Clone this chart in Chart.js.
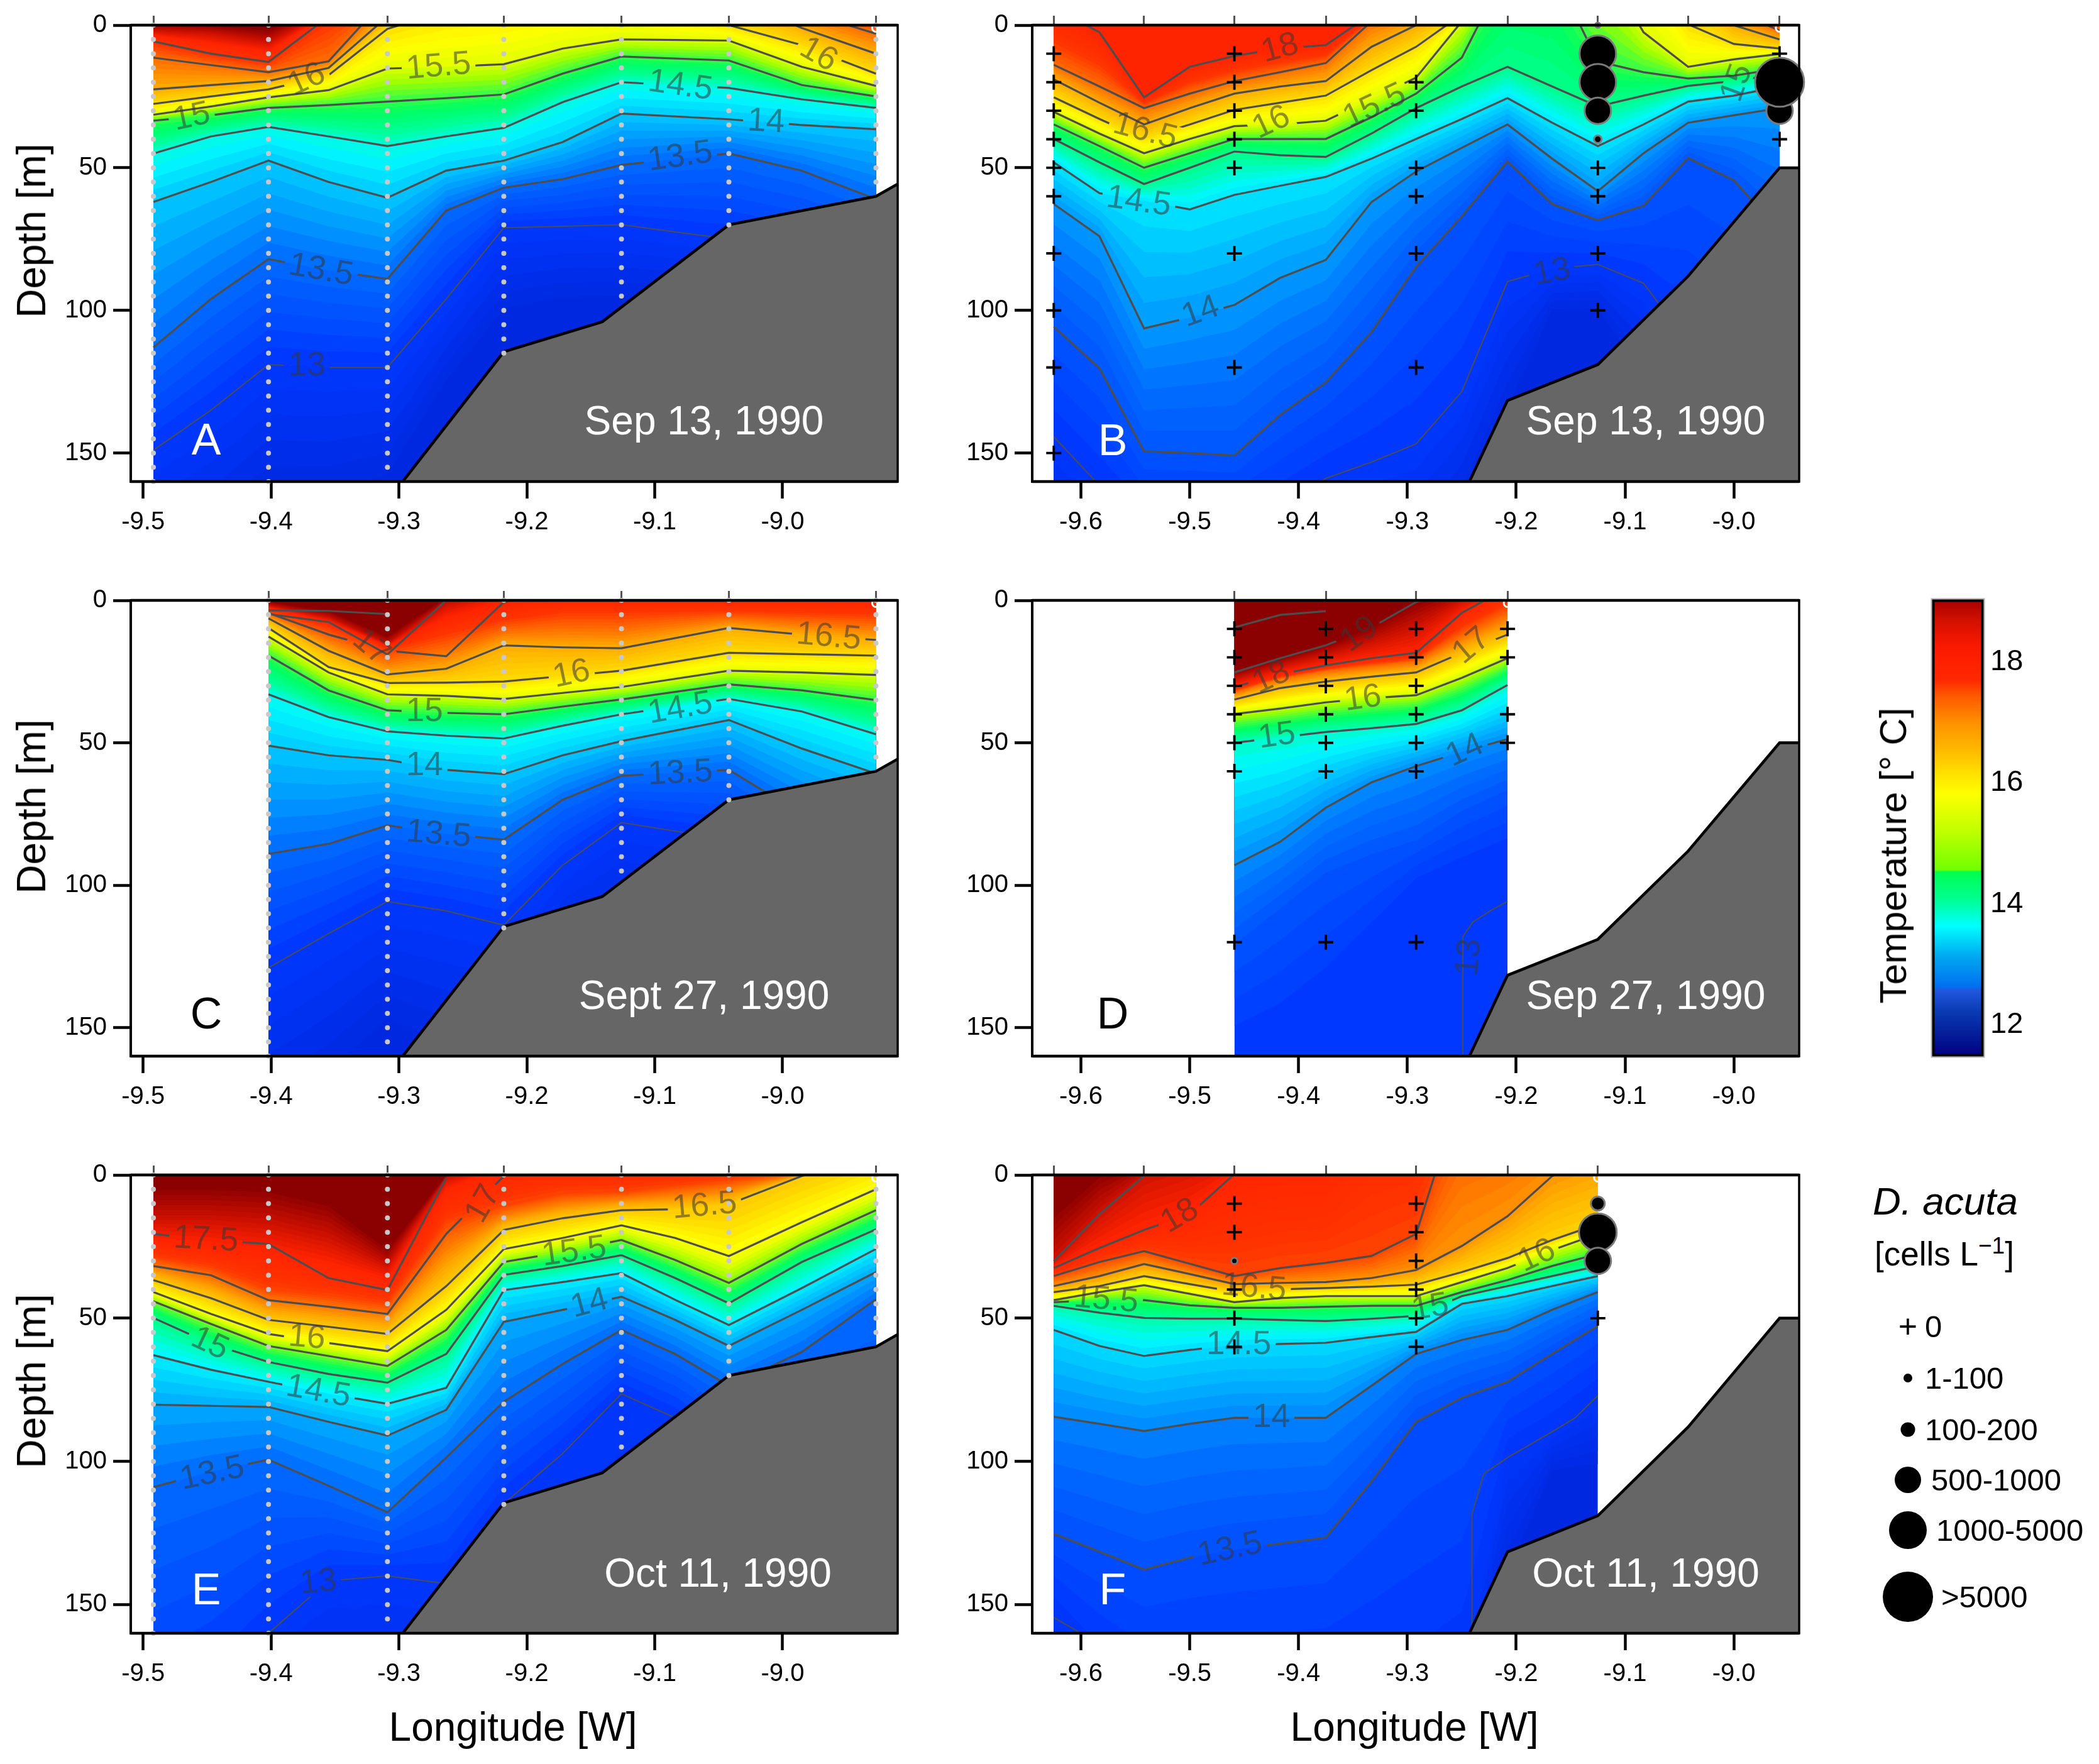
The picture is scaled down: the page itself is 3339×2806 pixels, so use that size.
<!DOCTYPE html>
<html><head><meta charset="utf-8">
<style>
html,body{margin:0;padding:0;background:#fff;width:3339px;height:2806px;overflow:hidden}
canvas{position:absolute}
.t{position:absolute;font-family:"Liberation Sans",Arial,sans-serif;line-height:1;white-space:nowrap;transform:translate(-50%,-50%);color:#000}
.l{transform:translate(0,-50%)}
.v{transform:translate(-50%,-50%) rotate(-90deg)}
.m{position:absolute;background:#000;border-radius:50%;transform:translate(-50%,-50%)}
sup{font-size:.7em;line-height:0}
</style>
<script src="https://cdn.jsdelivr.net/npm/chart.js@4/dist/chart.umd.js"></script>
</head><body>
<script>
// ---------- shared axes ----------
const X_TICKS=[-9.6,-9.5,-9.4,-9.3,-9.2,-9.1,-9.0];
const Y_TICKS=[0,50,100,150];
const SAMPLE_DEPTHS=[0,5,10,15,20,25,30,35,40,45,50,55,60,65,70,75,80,85,90,95,100,105,110,115,120,125,130,135,140,145,150,155,160];
// ---------- bathymetry ----------
const WEST_BOTTOM_LON=[-9.297,-9.218,-9.141,-9.042,-8.927,-8.91];
const WEST_BOTTOM_DEPTH=[160,114.5,104,70,60,55.7];
const EAST_BOTTOM_LON=[-9.243,-9.208,-9.125,-9.042,-8.958,-8.94];
const EAST_BOTTOM_DEPTH=[160,131.6,119,88,50,50];
// ---------- temperature colours ----------
const FIELD_T=[12.5,13,13.3,13.5,13.75,14,14.2,14.5,14.8,15,15.25,15.5,15.7,16,16.5,17,17.4,18,18.5,19];
const FIELD_C=['#0028e0','#0038ff','#0058ff','#0070ff','#00a0ff','#00d0ff','#00f8ff','#00ff98','#00ff60','#40ff40','#a0ff00','#e8ff00','#ffff00','#ffd800','#ffa800','#ff6800','#ff3400','#ff2400','#cc1000','#8b0000'];
const BAR_T=[11.48,12.18,12.58,12.63,13.13,13.63,14.08,14.53,14.56,15.2,15.82,16.2,16.56,17.0,17.46,17.7,18.0,18.3,18.7,19.03];
const BAR_C=['#000080','#0838b0','#2058e0','#0070f0','#00a8f0','#00ffff','#00ff90','#00ff50','#70ff00','#c0ff00','#ffff00','#ffdc00','#ffb800','#ff9000','#ff5500','#ff2800','#ff2000','#f81800','#d01000','#a80000'];
const BAR_TICKS=[12,14,16,18];

// ---------- Panel A ----------
const A_lon=[-9.492,-9.447,-9.402,-9.355,-9.309,-9.263,-9.218,-9.172,-9.126,-9.042,-8.985,-8.927];
const A_stations=[-9.492,-9.402,-9.309,-9.218,-9.126,-9.042,-8.927];
const A_stationBottom=[160,160,155,115,95,70,55];
const A_levels=[12.5,13,13.5,14,14.5,15,15.5,16,16.5,17,17.5,18.5,19];
const A_depths=[
[200,190,172,172,165,130,105,100,100,100,100,100],
[149,135,119,120,120,96,71,70.5,70,75,80,85],
[113,96,82,86,89,65,57,54,49,45,51,61],
[62,55,47.5,55,60.5,51,47.5,41,31,33,35,36.5],
[45,39,35.7,39,42.4,39,36,27,20,22,26,29],
[33.5,31.6,29,28,26.8,25.6,24.3,17,11,12.4,21,25],
[31.4,28.5,25.3,22.8,15.2,14.6,13.7,8.2,5,5.4,14.6,21.3],
[27.6,25,22.5,17.5,1.3,-5,-8,-10,-10,0,7,17],
[22.5,21,19.6,15,-3,-10,-10,-10,-10,-10,1,10],
[11.4,14,16.5,12.7,-10,-10,-10,-10,-10,-10,-5,3],
[5.7,10,12.9,-3,-10,-10,-10,-10,-10,-10,-10,-2],
[2,3,6,-5,-10,-10,-10,-10,-10,-10,-10,-10],
[-1,0,2,-8,-12,-12,-12,-12,-12,-12,-12,-12]];
const A_shadeOnly=[12.5,18.5,19];
const A_lineOnly=[];
const A_shade={14.5:14.35};
const A_labels=[['15.5',-9.269,14.6,-5,15.5],['16',-9.372,19.2,-25,16],['16',-8.972,10.4,30,16],['14.5',-9.08,21.3,8,14.5],['14',-9.013,34,3,14],['13.5',-9.08,46.2,-8,13.5],['15',-9.462,32.3,-12,15],['13.5',-9.361,86,10,13.5],['13',-9.372,119.6,0,13]];

// ---------- Panel B ----------
const B_lon=[-9.625,-9.583,-9.542,-9.5,-9.459,-9.417,-9.375,-9.333,-9.292,-9.25,-9.208,-9.167,-9.125,-9.083,-9.042,-9,-8.958];
const B_stations=[-9.625,-9.542,-9.459,-9.375,-9.292,-9.208,-9.125,-9.042,-8.958];
const B_levels=[12.5,13,13.3,13.75,14.15,14.6,15,15.5,16,16.5,17,18];
const B_depths=[
[200,200,200,200,200,200,200,200,200,180,143,102.5,102.5,130,200,200,200],
[144.3,161.4,174.7,174.7,174.7,168.4,158.9,153.2,146.8,128.5,89.9,85.4,83.9,90.5,111.4,130.4,143],
[105.7,120.3,149.4,150,150.9,136.7,125.3,107.6,84.8,67.1,47.8,62.7,68.4,63.3,46.6,54.4,72.2],
[62.7,74,106.3,102.5,98.1,88.6,82.3,62,51.3,43,34.8,46.8,58.2,44.9,34.2,31.6,29.1],
[48.1,58.9,61.6,64.6,59.5,56.3,53.2,46.8,39.9,32.9,25.6,34.2,42.4,34.8,26.8,24.7,21.5],
[39.9,48.1,55.7,50,44.3,45.6,46.2,38,29.1,21.5,14.6,21.5,28.5,24.7,21.3,19.6,17.1],
[34.8,42.4,50,44.9,39.9,39.9,39.9,32.3,24,11.4,-20,-20,12.7,16.5,18.7,17.7,15.2],
[30.4,38,44.9,39.9,35.4,34.8,33.5,25.9,18.4,-1.3,-25,-25,-25,2.5,14.6,12,10.1],
[25.3,32.9,39.9,34.8,29.7,27.2,24.7,15.8,7.6,-3.8,-30,-30,-30,-30,-0.3,6.6,8.2],
[19,27.2,34.8,29.1,24,21.5,19.6,7.6,0,-6,-32,-32,-32,-32,-20,0,5],
[13.9,21.5,29.1,24,19.6,16.5,13.3,-1.3,-6,-8,-34,-34,-34,-34,-34,-5,1.9],
[-6,2.5,25.3,14.6,10.8,8.2,7,-4,-8,-10,-36,-36,-36,-36,-36,-10,-6]];
const B_shadeOnly=[12.5];
const B_lineOnly=[];
const B_labels=[['18',-9.417,8.2,-15,18],['16.5',-9.541,37.3,15,16],['16',-9.425,34.2,-25,15.5],['15.5',-9.33,28.5,-25,15.5],['14.5',-9.547,62,8,14.15],['14',-9.49,100.6,-20,13.75],['13',-9.167,86.7,-10,13],['15',-8.997,20.3,-70,14.6]];
const B_zero=[[-9.625,[10,20,30,40,50,60,80,100,120,150]],[-9.459,[10,20,30,40,50,80,120]],[-9.292,[20,30,50,60,80,120]],[-9.125,[50,60,80,100]],[-8.958,[10,40]]];
const B_cells=[[-9.125,0,4],[-9.125,10,29],[-9.125,20,29],[-9.125,30,21],[-9.125,40,6],[-8.958,30,21],[-8.958,20,39]];

// ---------- Panel C ----------
const C_lon=[-9.402,-9.355,-9.309,-9.263,-9.218,-9.172,-9.126,-9.042,-8.985,-8.927];
const C_stations=[-9.402,-9.309,-9.218,-9.126,-9.042,-8.927];
const C_stationBottom=[160,155,115,95,70,55];
const C_levels=[12.5,13,13.5,14,14.5,15,15.5,16,16.5,17,17.4,17.5,18,18.6,19];
const C_depths=[
[190,175,155,165,170,130,120,120,120,120],
[129,117,105.7,109,114,93,78,84,102,115],
[89,85.5,79,82,84,70,61.6,59.5,75,89],
[51,54.4,56,59.5,61,54.4,49.4,42,52,60.8],
[33,41,46,47.5,48.5,44,40,34.6,39,47],
[19.4,31.6,38.6,39.5,40,37.3,34.8,29.5,31.6,35],
[12.7,25.3,33,33.5,34.6,32.5,30.4,24.7,25.3,26.2],
[9.7,23.4,29,28.9,28.5,26.6,24.7,18.4,18.9,19.4],
[6.3,17.7,26,24,15.8,16.5,16.8,9.7,12,13.9],
[4.4,12,17.7,19.6,0.6,-5,null,null,null,null],
[3.8,9.5,17.3,12,7,4.4,4.4,3.8,4.4,5],
[4.8,7.6,19,0,-5,null,null,null,null,null],
[3.5,3.7,4.8,null,null,null,null,null,null,null],
[1.6,5.7,15,0.6,-5,-5,-5,-5,-5,-5],
[0.4,3.8,12.7,-1,-6,-6,-6,-6,-6,-6]];
const C_shadeOnly=[12.5,17.4,18.6,19];
const C_lineOnly=[17,17.5,18];
const C_shade={14.5:14.3};
const C_labels=[['16.5',-8.964,12.9,5,16.5],['16',-9.165,26,-12,16],['15',-9.28,39.2,0,15],['14.5',-9.08,38,-10,14.5],['14',-9.28,58.2,0,14],['13.5',-9.08,60.8,-3,13.5],['13.5',-9.269,82.3,5,13.5],['17',-9.322,16.5,40,17]];

// ---------- Panel D ----------
const D_lon=[-9.459,-9.417,-9.375,-9.333,-9.292,-9.25,-9.208];
const D_stations=[-9.459,-9.375,-9.292,-9.208];
const D_levels=[13,13.3,13.7,14.4,15.4,16.3,17,18,19,19.5];
const D_depths=[
[158.9,152.5,139.9,120.9,101.9,95.6,89.2],
[120.9,108.2,95.6,89.2,84.2,74,66.5],
[93,84.8,72.8,63.9,58.2,53.2,48.7],
[50,48.1,46.2,44.9,43.4,38.6,29.7],
[39.9,38,35.8,34.3,33.3,27.2,20.3],
[34.8,30.8,28.5,26.8,25.3,18.4,12],
[32.3,27.5,24.9,23.2,21.5,12.7,5],
[30.4,25.9,22.8,20.3,18.4,4.4,-4.4],
[25.3,20.3,15.8,9.5,0.6,-4.4,-4.4],
[9.5,5.1,3.8,null,null,null,null]];
const D_shadeOnly=[13,13.3,17];
const D_lineOnly=[19.5];
const D_labels=[['19',-9.344,12,-35,19],['18',-9.425,27.2,-25,18],['17',-9.241,16,-40,16.3],['16',-9.341,34.6,-8,15.4],['15',-9.42,47.7,-8,14.4],['14',-9.247,52.8,-25,13.7],['13',-9.243,125.3,-85,0]];
const D_extraLon=[-9.249,-9.249,-9.24,-9.224,-9.208];
const D_extraDepth=[160,118,113,109,105.7];
const D_zero=[[-9.459,[10,20,30,40,50,60,120]],[-9.375,[10,20,30,40,50,60,120]],[-9.292,[10,20,30,40,50,60,120]],[-9.208,[10,20,40,50]]];

// ---------- Panel E ----------
const E_lon=[-9.492,-9.447,-9.402,-9.355,-9.309,-9.263,-9.218,-9.172,-9.126,-9.084,-9.042,-8.985,-8.927];
const E_stations=[-9.492,-9.402,-9.309,-9.218,-9.126,-9.042,-8.927];
const E_stationBottom=[160,160,155,115,95,70,55];
const E_levels=[12.5,13,13.5,14,14.5,15,15.5,16,16.5,17,17.3,17.5,18,18.5,19];
const E_depths=[
[200,200,200,200,200,200,200,200,200,200,200,200,200],
[196,182,160,141.7,140,142.7,114.8,97.3,76.4,84.8,98.7,112.7,126.6],
[109,103.6,99.4,108.5,117.8,98.7,79.2,66,54.1,62.5,73.6,61.8,43.4],
[80.2,80.6,81,86.2,91,82,51.3,47.1,42.5,50.6,59.7,47.1,33.9],
[62.9,68,72.2,76.4,79.9,74.3,40.2,37.4,34.3,43.6,52.4,39.5,25.8],
[49.9,59,65.3,69.5,72.5,62.5,34.9,31.8,28,36,44.8,30.4,19],
[44.1,52,59.7,63.2,66.7,54.1,30.4,26.9,22.7,29.7,37.7,24.1,12.3],
[40.9,48.5,55.5,58.7,61.5,47.1,25.9,22,17.6,22,28.3,16.5,5],
[36.7,43,50.6,53,55.5,38.8,19.2,15.1,12.3,12,10.2,0.4,-8],
[31.8,35,43.7,46,48.5,20.6,0.4,null,null,null,null,null,null],
[29,32.5,40.2,42.3,45,17,10.9,6.7,6,3.9,1.8,-1,-7],
[20.6,22.7,24.1,36,40.2,1.1,null,null,null,null,null,null,null],
[23.1,24.8,27,31.8,36.7,5.3,-3,-5,-5,-5,-5,-5,-8],
[15.8,15.8,17.2,22,31.8,1,-5,-6,-6,-6,-6,-6,-9],
[5.3,5.3,6,10.9,26.2,0,-6,-7,-7,-7,-7,-7,-10]];
const E_shadeOnly=[12.5,17.3,18,18.5,19];
const E_lineOnly=[17,17.5];
const E_shade={14:13.85,14.5:14.2,15:14.6,15.5:15.2,16:15.7,16.5:16.2};
const E_labels=[['17.5',-9.451,22.7,3,17.5],['16.5',-9.061,10.9,-5,16.5],['15.5',-9.163,26.9,-8,15.5],['16',-9.372,56.9,5,16],['15',-9.448,59,25,15],['14.5',-9.363,75.7,10,14.5],['14',-9.151,45,-15,14],['13.5',-9.446,104.3,-12,13.5],['13',-9.363,142.3,-5,13],['17',-9.234,10.2,-60,17]];

// ---------- Panel F ----------
const F_lon=[-9.625,-9.583,-9.542,-9.5,-9.459,-9.417,-9.375,-9.333,-9.292,-9.25,-9.208,-9.167,-9.125];
const F_stations=[-9.625,-9.542,-9.459,-9.375,-9.292,-9.208,-9.125];
const F_levels=[12.5,13,13.5,14,14.5,15,15.5,16,16.5,17,17.5,18,18.5,19];
const F_depths=[
[200,200,200,200,200,200,200,200,200,190,147,105.7,105.7],
[154.5,175,190,190,190,190,190,190,190,177.4,98.7,89.7,77.1],
[125.2,131.5,137.8,133.6,130.8,128.7,126.6,107.1,86.2,77.8,72.2,62.5,52.7],
[84.4,86.9,89.4,86.9,84.8,84.8,84.8,73.6,62.5,57.6,54.1,47.1,40.9],
[54.1,59.7,63.2,61.1,59.4,59,58.6,56.6,54.8,45,42.3,38.8,35.3],
[45.7,48.1,49.9,50.2,50.2,50.6,51,50.2,49.2,42.3,38.8,35.3,31.8],
[44.4,43.7,43.7,45.5,46.4,46.4,46,45.7,45.7,40.9,36.7,31.8,27.6],
[43.7,40.9,38.5,41.5,44.4,43,42.3,42.3,42.3,37.4,32.5,26.2,20.6],
[40.9,38.8,35.3,38.1,40.8,39.9,39.5,39,38.3,33.9,29,22.7,17.2],
[38.8,35.3,31.1,34.6,38.1,37.7,37.4,36,33.2,24.8,14.4,0.4,-6],
[35.3,30.4,26.6,31,35.3,32.5,30.7,28.3,20.6,-30,-30,-30,-30],
[32.5,25.5,19.2,13.7,-0.3,-5,-5,-35,-35,-35,-35,-35,-35],
[30.1,13.7,0.4,-5,-6,-6,-6,-36,-36,-36,-36,-36,-36],
[15,1,-5,-7,-8,-8,-8,-38,-38,-38,-38,-38,-38]];
const F_shadeOnly=[12.5,13,19];
const F_lineOnly=[];
const F_shade={13:12.95,13.5:13.25,14:13.65,14.5:14.1,15:14.5,15.5:15,16:15.5,16.5:16.1,17:16.7,17.5:17.3};
const F_labels=[['18',-9.509,14.4,-30,18],['16.5',-9.441,39.5,5,16.5],['16',-9.181,28.3,-25,16],['15.5',-9.577,43.7,5,15.5],['15',-9.279,46.4,-10,15],['14.5',-9.455,59.3,0,14.5],['14',-9.425,84.8,0,14],['13.5',-9.463,130.8,-12,13.5]];
const F_extraLon=[-9.2407,-9.2407,-9.2298,-9.208,-9.167,-9.146,-9.125];
const F_extraDepth=[160,118.7,104.3,98.7,89.7,84.8,77.1];
const F_extra2Lon=[-9.625,-9.6];
const F_extra2Depth=[154.5,160];
const F_zero=[[-9.459,[10,20,40,50,60]],[-9.292,[10,20,30,40,50,60]],[-9.125,[50]]];
const F_cells=[[-9.459,30,5],[-9.125,10,11],[-9.125,20,30],[-9.125,30,21]];

// ---------- helpers ----------
function hex(c){return [1,3,5].map(i=>parseInt(c.substr(i,2),16));}
function ramp(T,ts,cs){
  if(T<=ts[0])return cs[0];
  for(let i=1;i<ts.length;i++){ if(T<=ts[i]){
    const f=(T-ts[i-1])/(ts[i]-ts[i-1]),a=hex(cs[i-1]),b=hex(cs[i]);
    return 'rgb('+a.map((v,k)=>Math.round(v+(b[k]-v)*f)).join(',')+')';
  }}
  return cs[cs.length-1];
}
const LABEL_FONT=53, FONT='"Liberation Sans",Arial,sans-serif';
function labelBox(ctx,chart,l){
  ctx.font=LABEL_FONT+'px '+FONT;
  const w=ctx.measureText(l[0]).width+14,h=LABEL_FONT*0.8;
  return {x:chart.scales.x.getPixelForValue(l[1]),y:chart.scales.y.getPixelForValue(l[2]),w,h,a:l[3]*Math.PI/180};
}
const sectionPlugin={
  id:'section',
  beforeDatasetsDraw(chart){
    const p=chart.canvas.$spec; if(!p)return;
    const a=chart.chartArea,ctx=chart.ctx,X=chart.scales.x,Y=chart.scales.y;
    const shade=p.shade||{};
    const rows=p.levels.map((t,i)=>({t:shade[t]!==undefined?shade[t]:t,k:t,d:p.depths[i]})).filter(r=>!p.lineOnly.includes(r.k));
    const xs=p.lon.map(v=>X.getPixelForValue(v));
    const x0=xs[0],xN=xs[xs.length-1];
    ctx.save();
    ctx.beginPath();ctx.rect(x0,a.top,xN-x0,a.bottom-a.top);ctx.clip();
    ctx.fillStyle=ramp(rows[0].t,FIELD_T,FIELD_C);
    ctx.fillRect(x0,a.top,xN-x0,a.bottom-a.top);
    for(let i=0;i<rows.length-1;i++){
      const r0=rows[i],r1=rows[i+1],n=Math.max(1,Math.round((r1.t-r0.t)/0.08));
      for(let s=1;s<=n;s++){
        const f=s/n;
        ctx.beginPath();ctx.moveTo(x0,a.top-300);
        p.lon.forEach((v,j)=>ctx.lineTo(xs[j],Y.getPixelForValue(r0.d[j]+(r1.d[j]-r0.d[j])*f)));
        ctx.lineTo(xN,a.top-300);ctx.closePath();
        ctx.fillStyle=ramp(r0.t+(r1.t-r0.t)*f,FIELD_T,FIELD_C);ctx.fill();
      }
    }
    ctx.restore();
  },
  beforeDatasetDraw(chart,args){
    const p=chart.canvas.$spec; if(!p)return;
    const ds=chart.data.datasets[args.index];
    if(ds.contourLevel===undefined)return;
    const ctx=chart.ctx;
    ctx.save();ctx.beginPath();ctx.rect(0,0,chart.width,chart.height);
    p.labels.filter(l=>l[4]===ds.contourLevel).forEach(l=>{
      const b=labelBox(ctx,chart,l),c=Math.cos(b.a),s=Math.sin(b.a);
      [[-1,-1],[1,-1],[1,1],[-1,1]].forEach((q,i)=>{
        const dx=q[0]*b.w/2,dy=q[1]*b.h/2,px=b.x+dx*c-dy*s,py=b.y+dx*s+dy*c;
        if(i===0)ctx.moveTo(px,py);else ctx.lineTo(px,py);
      });ctx.closePath();
    });
    ctx.clip('evenodd');
  },
  afterDatasetDraw(chart,args){
    const p=chart.canvas.$spec; if(!p)return;
    const ds=chart.data.datasets[args.index],ctx=chart.ctx;
    if(ds.contourLevel!==undefined){ctx.restore();return;}
    if(ds.isBottom){
      p.labels.forEach(l=>{
        const b=labelBox(ctx,chart,l);
        ctx.save();ctx.translate(b.x,b.y);ctx.rotate(b.a);
        ctx.fillStyle='rgba(55,55,55,0.55)';ctx.textAlign='center';ctx.textBaseline='middle';
        ctx.fillText(l[0],0,0);ctx.restore();
      });
    }
  },
  afterDatasetsDraw(chart){
    if(!chart.canvas.$spec)return;
    const a=chart.chartArea,ctx=chart.ctx;
    ctx.save();ctx.strokeStyle='#000';
    ctx.lineWidth=4.5;
    ctx.beginPath();ctx.moveTo(a.left,a.top);ctx.lineTo(a.right,a.top);ctx.moveTo(a.left,a.bottom);ctx.lineTo(a.right,a.bottom);ctx.stroke();
    ctx.lineWidth=3.5;
    ctx.strokeRect(a.left,a.top,a.right-a.left,a.bottom-a.top);ctx.restore();
  }
};
const colorBarPlugin={
  id:'colorBar',
  beforeDatasetsDraw(chart){
    if(!chart.canvas.$isBar)return;
    const a=chart.chartArea,ctx=chart.ctx,Y=chart.scales.y;
    const g=ctx.createLinearGradient(0,a.bottom,0,a.top),span=a.bottom-a.top;
    BAR_T.forEach((t,i)=>{g.addColorStop(Math.min(1,Math.max(0,(a.bottom-Y.getPixelForValue(t))/span)),BAR_C[i]);});
    ctx.save();ctx.fillStyle=g;ctx.fillRect(a.left,a.top,a.right-a.left,span);
    ctx.strokeStyle='#b5b5b5';ctx.lineWidth=2;ctx.strokeRect(a.left-1.5,a.top-1.5,a.right-a.left+3,span+3);
    ctx.strokeStyle='#000';ctx.lineWidth=4;ctx.strokeRect(a.left+1.5,a.top+1.5,a.right-a.left-3,span-3);
    ctx.restore();
  }
};
Chart.register(sectionPlugin,colorBarPlugin);

function makeCanvas(l,t,w,h){
  const c=document.createElement('canvas');c.width=w;c.height=h;
  c.style.cssText='left:'+l+'px;top:'+t+'px;width:'+w+'px;height:'+h+'px';
  document.body.appendChild(c);return c;
}
const tickFont={family:FONT,size:40};
function panel(r,s){
  const datasets=[];
  s.levels.forEach((t,i)=>{
    if(s.shadeOnly.includes(t))return;
    datasets.push({type:'line',contourLevel:t,data:s.lon.map((v,j)=>({x:v,y:s.depths[i][j]})),
      borderColor:'#4d4d4d',borderWidth:t<=13?2:3.2,pointRadius:0,tension:0,fill:false,order:6,spanGaps:false});
  });
  (s.extras||[]).forEach(e=>datasets.push({type:'line',data:e[0].map((v,j)=>({x:v,y:e[1][j]})),
      borderColor:'#4d4d4d',borderWidth:2,pointRadius:0,tension:0,fill:false,order:6}));
  datasets.push({type:'line',isBottom:true,data:s.bottomLon.map((v,j)=>({x:v,y:s.bottomDepth[j]})),
      borderColor:'#000',borderWidth:4.5,backgroundColor:'#666666',pointRadius:0,tension:0,fill:{value:160},order:5});
  if(s.bottoms){
    const pts=[];
    s.stations.forEach((v,j)=>SAMPLE_DEPTHS.forEach(d=>{if(d<=s.bottoms[j])pts.push({x:v,y:d});}));
    datasets.push({type:'scatter',data:pts,pointRadius:4,pointStyle:'circle',backgroundColor:'#c8c8c8',borderWidth:0,order:4,clip:false});
  }
  datasets.push({type:'scatter',data:[{x:s.stations[s.stations.length-1],y:1}],pointRadius:6,pointStyle:'circle',
      backgroundColor:'rgba(0,0,0,0)',borderColor:'#ffffff',borderWidth:3,order:4});
  if(s.zero){
    const pts=[];s.zero.forEach(z=>z[1].forEach(d=>pts.push({x:z[0],y:d})));
    datasets.push({type:'scatter',data:pts,pointStyle:'cross',pointRadius:12,borderColor:'#000',borderWidth:3.8,order:3,clip:false});
  }
  if(s.cells){
    const pts=s.cells.map(c=>({x:c[0],y:c[1]}));
    datasets.push({type:'scatter',data:pts,pointStyle:'circle',pointRadius:s.cells.map(c=>c[2]),
      backgroundColor:'#000',borderColor:'#7a7a7a',borderWidth:3,order:2,clip:false});
  }
  const cv=makeCanvas(r.l,r.t,r.w,r.h);cv.$spec=s;
  new Chart(cv,{
    data:{datasets},
    options:{responsive:false,animation:false,events:[],devicePixelRatio:1,
      layout:{autoPadding:false,padding:{right:r.w-r.pr,left:0,top:0,bottom:0}},
      plugins:{legend:{display:false},tooltip:{enabled:false}},
      scales:{
        x:{type:'linear',position:'bottom',min:s.xmin,max:s.xmax,
          afterBuildTicks:ax=>{ax.ticks=X_TICKS.filter(v=>v>=s.xmin&&v<=s.xmax).map(v=>({value:v}));},
          afterFit:ax=>{ax.height=r.h-r.pb;},
          ticks:{font:tickFont,color:'#000',padding:14,maxRotation:0,autoSkip:false,callback:v=>Number(v).toFixed(1)},
          grid:{display:true,drawOnChartArea:false,drawTicks:true,tickLength:27,tickWidth:4.5,tickColor:'#000'},
          border:{display:true,color:'#000',width:4}},
        x2:{type:'linear',position:'top',min:s.xmin,max:s.xmax,
          afterBuildTicks:ax=>{ax.ticks=s.stations.map(v=>({value:v}));},
          afterFit:ax=>{ax.height=r.pt;},
          ticks:{display:false,autoSkip:false},
          grid:{display:true,drawOnChartArea:false,drawTicks:true,tickLength:15,tickWidth:3,tickColor:'#555'},
          border:{display:true,color:'#000',width:4}},
        y:{type:'linear',position:'left',reverse:true,min:0,max:160,
          afterBuildTicks:ax=>{ax.ticks=Y_TICKS.map(v=>({value:v}));},
          afterFit:ax=>{ax.width=r.pl;},
          ticks:{font:tickFont,color:'#000',padding:10,autoSkip:false},
          grid:{display:true,drawOnChartArea:false,drawTicks:true,tickLength:28,tickWidth:4.5,tickColor:'#000'},
          border:{display:true,color:'#000',width:4}}
      }}
  });
}
const WX=[-9.5097,-8.91],EX=[-9.6448,-8.94];
const rowsY=[{t:0,h:900,pt:40,pb:766},{t:900,h:910,pt:55,pb:780},{t:1810,h:996,pt:59,pb:788}];
const colW={l:0,w:1445,pl:208,pr:1428},colE={l:1445,w:1435,pl:197,pr:1417};
function rect(c,y){return {l:c.l,w:c.w,pl:c.pl,pr:c.pr,t:y.t,h:y.h,pt:y.pt,pb:y.pb};}
panel(rect(colW,rowsY[0]),{xmin:WX[0],xmax:WX[1],lon:A_lon,levels:A_levels,depths:A_depths,shadeOnly:A_shadeOnly,lineOnly:A_lineOnly,shade:A_shade,labels:A_labels,stations:A_stations,bottoms:A_stationBottom,bottomLon:WEST_BOTTOM_LON,bottomDepth:WEST_BOTTOM_DEPTH});
panel(rect(colE,rowsY[0]),{xmin:EX[0],xmax:EX[1],lon:B_lon,levels:B_levels,depths:B_depths,shadeOnly:B_shadeOnly,lineOnly:B_lineOnly,labels:B_labels,stations:B_stations,zero:B_zero,cells:B_cells,bottomLon:EAST_BOTTOM_LON,bottomDepth:EAST_BOTTOM_DEPTH});
panel(rect(colW,rowsY[1]),{xmin:WX[0],xmax:WX[1],lon:C_lon,levels:C_levels,depths:C_depths,shadeOnly:C_shadeOnly,lineOnly:C_lineOnly,shade:C_shade,labels:C_labels,stations:C_stations,bottoms:C_stationBottom,bottomLon:WEST_BOTTOM_LON,bottomDepth:WEST_BOTTOM_DEPTH});
panel(rect(colE,rowsY[1]),{xmin:EX[0],xmax:EX[1],lon:D_lon,levels:D_levels,depths:D_depths,shadeOnly:D_shadeOnly,lineOnly:D_lineOnly,labels:D_labels,stations:D_stations,zero:D_zero,extras:[[D_extraLon,D_extraDepth]],bottomLon:EAST_BOTTOM_LON,bottomDepth:EAST_BOTTOM_DEPTH});
panel(rect(colW,rowsY[2]),{xmin:WX[0],xmax:WX[1],lon:E_lon,levels:E_levels,depths:E_depths,shadeOnly:E_shadeOnly,lineOnly:E_lineOnly,shade:E_shade,labels:E_labels,stations:E_stations,bottoms:E_stationBottom,bottomLon:WEST_BOTTOM_LON,bottomDepth:WEST_BOTTOM_DEPTH});
panel(rect(colE,rowsY[2]),{xmin:EX[0],xmax:EX[1],lon:F_lon,levels:F_levels,depths:F_depths,shadeOnly:F_shadeOnly,lineOnly:F_lineOnly,shade:F_shade,labels:F_labels,stations:F_stations,zero:F_zero,cells:F_cells,extras:[[F_extraLon,F_extraDepth],[F_extra2Lon,F_extra2Depth]],bottomLon:EAST_BOTTOM_LON,bottomDepth:EAST_BOTTOM_DEPTH});

// colour bar
const barCanvas=makeCanvas(3040,900,299,900);barCanvas.$isBar=true;
new Chart(barCanvas,{
  data:{datasets:[{type:'line',data:[]}]},
  options:{responsive:false,animation:false,events:[],devicePixelRatio:1,
    layout:{autoPadding:false,padding:{left:34,top:54,bottom:120,right:0}},
    plugins:{legend:{display:false},tooltip:{enabled:false}},
    scales:{
      x:{display:false},
      y:{type:'linear',position:'right',min:11.48,max:19.03,
        afterBuildTicks:ax=>{ax.ticks=BAR_TICKS.map(v=>({value:v}));},
        afterFit:ax=>{ax.width=184;},
        ticks:{font:{family:FONT,size:47},color:'#000',padding:11,autoSkip:false,crossAlign:'near'},
        grid:{display:false,drawTicks:false,tickLength:0},border:{display:false}}
    }}
});

// ---------- text ----------
const PANEL_TEXT=[['A',328,699,'#fff'],['B',1770,700,'#fff'],['C',328,1612,'#000'],['D',1770,1612,'#000'],['E',328,2528,'#fff'],['F',1770,2528,'#fff']];
const DATE_TEXT=[['Sep 13, 1990',1120,669],['Sep 13, 1990',2618,669],['Sept 27, 1990',1120,1583],['Sep 27, 1990',2618,1583],['Oct 11, 1990',1142,2502],['Oct 11, 1990',2618,2502]];
const DEPTH_TEXT=[367,1283,2197];
const LONG_TEXT=[816,2250];
const LEGEND_ITEMS=[['0',2110,0,3062],['1-100',2192,7,3062],['100-200',2274,11.5,3062],['500-1000',2354,21,3072],['1000-5000',2434,30,3080],['>5000',2540,40,3088]];
function txt(s,x,y,size,cls,color,extra){
  const d=document.createElement('div');d.className='t '+(cls||'');d.innerHTML=s;
  d.style.left=x+'px';d.style.top=y+'px';d.style.fontSize=size+'px';if(color)d.style.color=color;
  if(extra)d.style.cssText+=extra;document.body.appendChild(d);
}
PANEL_TEXT.forEach(p=>txt(p[0],p[1],p[2],70,'',p[3]));
DATE_TEXT.forEach(p=>txt(p[0],p[1],p[2],64,'','#fff'));
DEPTH_TEXT.forEach(y=>txt('Depth [m]',50,y,64,'v'));
LONG_TEXT.forEach(x=>txt('Longitude [W]',x,2747,64));
txt('Temperature [° C]',3012,1361,60,'v');
txt('D. acuta',2979,1911,62,'l','','font-style:italic');
txt('[cells L<sup>−1</sup>]',2982,1994,53,'l');
LEGEND_ITEMS.forEach(e=>{
  if(e[2]>0){const m=document.createElement('div');m.className='m';
    m.style.cssText='left:3035px;top:'+e[1]+'px;width:'+(2*e[2])+'px;height:'+(2*e[2])+'px';document.body.appendChild(m);}
  else txt('+',3035,e[1],52);
  txt(e[0],e[3],e[1],49,'l');
});
</script>
</body></html>
